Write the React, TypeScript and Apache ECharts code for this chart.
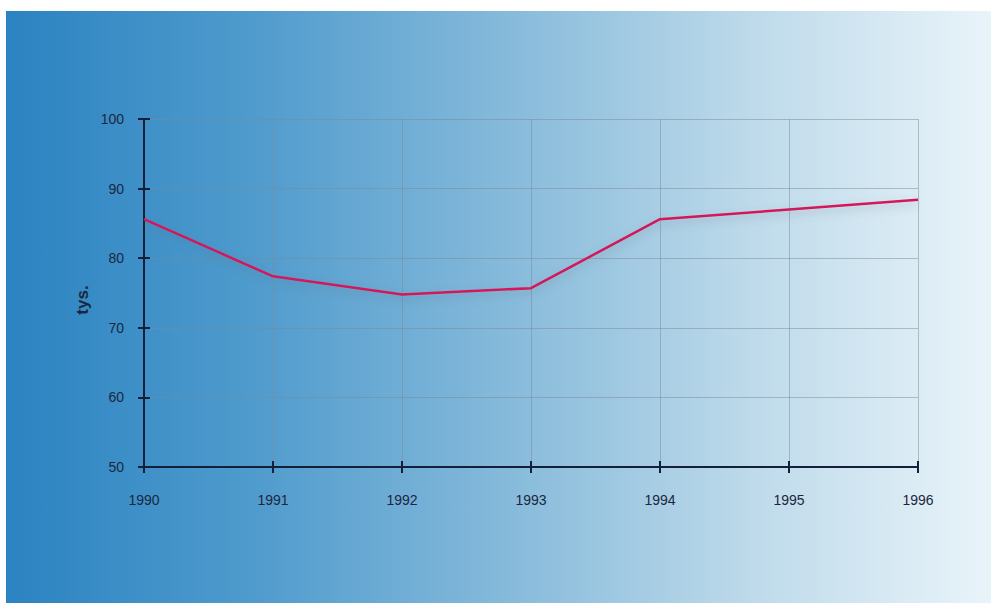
import React, { useEffect, useRef } from "react";
import * as echarts from "echarts";

const years = ["1990", "1991", "1992", "1993", "1994", "1995", "1996"];
const values = [85.6, 77.4, 74.8, 75.7, 85.6, 87.0, 88.4];
const yMin = 50;
const yMax = 100;
const yStep = 10;

export default function App() {
  const ref = useRef<HTMLDivElement>(null);
  useEffect(() => {
    const chart = echarts.init(ref.current!, null, { renderer: "svg" });
    const axisColor = "#14203a";
    const labelStyle = { color: "#1b2740", fontFamily: "Liberation Sans, Arial, sans-serif", fontSize: 14 };
    chart.setOption({
      animation: false,
      graphic: [
        {
          type: "rect",
          z: -10,
          silent: true,
          shape: { x: 6, y: 11, width: 985, height: 592 },
          style: {
            fill: new echarts.graphic.LinearGradient(0, 0, 1, 0, [
              { offset: 0, color: "#2b83c1" },
              { offset: 0.25, color: "#4f9bcd" },
              { offset: 0.5, color: "#84b9da" },
              { offset: 0.75, color: "#bcd9ea" },
              { offset: 1, color: "#e9f4f9" },
            ]),
          },
        },
        {
          type: "text",
          x: 82,
          y: 300,
          rotation: Math.PI / 2,
          style: {
            text: "tys.",
            fill: "#1b2740",
            font: "bold 17px Liberation Sans, Arial, sans-serif",
            textAlign: "center",
            textVerticalAlign: "middle",
          },
        },
      ],
      grid: { left: 144, right: 73, top: 119, bottom: 136, containLabel: false },
      xAxis: [
        {
          type: "category",
          data: years,
          boundaryGap: false,
          axisLine: { lineStyle: { color: axisColor, width: 2 } },
          axisTick: { show: true, length: 6, lineStyle: { color: axisColor, width: 2 } },
          axisLabel: { ...labelStyle, margin: 26 },
          splitLine: { show: true, lineStyle: { color: "rgba(125,135,150,0.5)", width: 1 } },
        },
        {
          type: "category",
          data: years,
          boundaryGap: false,
          position: "bottom",
          axisLine: { show: false },
          axisTick: { show: true, inside: true, length: 6, lineStyle: { color: axisColor, width: 2 } },
          axisLabel: { show: false },
          splitLine: { show: false },
        },
      ],
      yAxis: [
        {
          type: "value",
          min: yMin,
          max: yMax,
          interval: yStep,
          axisLine: { show: true, lineStyle: { color: axisColor, width: 2 } },
          axisTick: { show: true, length: 6, lineStyle: { color: axisColor, width: 2 } },
          axisLabel: { ...labelStyle, margin: 20 },
          splitLine: { show: true, lineStyle: { color: "rgba(125,135,150,0.5)", width: 1 } },
        },
        {
          type: "value",
          min: yMin,
          max: yMax,
          interval: yStep,
          position: "left",
          axisLine: { show: false },
          axisTick: { show: true, inside: true, length: 6, lineStyle: { color: axisColor, width: 2 } },
          axisLabel: { show: false },
          splitLine: { show: false },
        },
      ],
      series: [
        {
          type: "line",
          data: values,
          symbol: "none",
          lineStyle: {
            color: "#d4185a",
            width: 2.5,
            shadowColor: "rgba(90,100,110,0.35)",
            shadowBlur: 8,
            shadowOffsetY: 4,
          },
        },
      ],
    });
    return () => chart.dispose();
  }, []);
  return (
    <div
      ref={ref}
      style={{ position: "absolute", left: 0, top: 0, width: 991, height: 603, background: "#ffffff" }}
    />
  );
}
